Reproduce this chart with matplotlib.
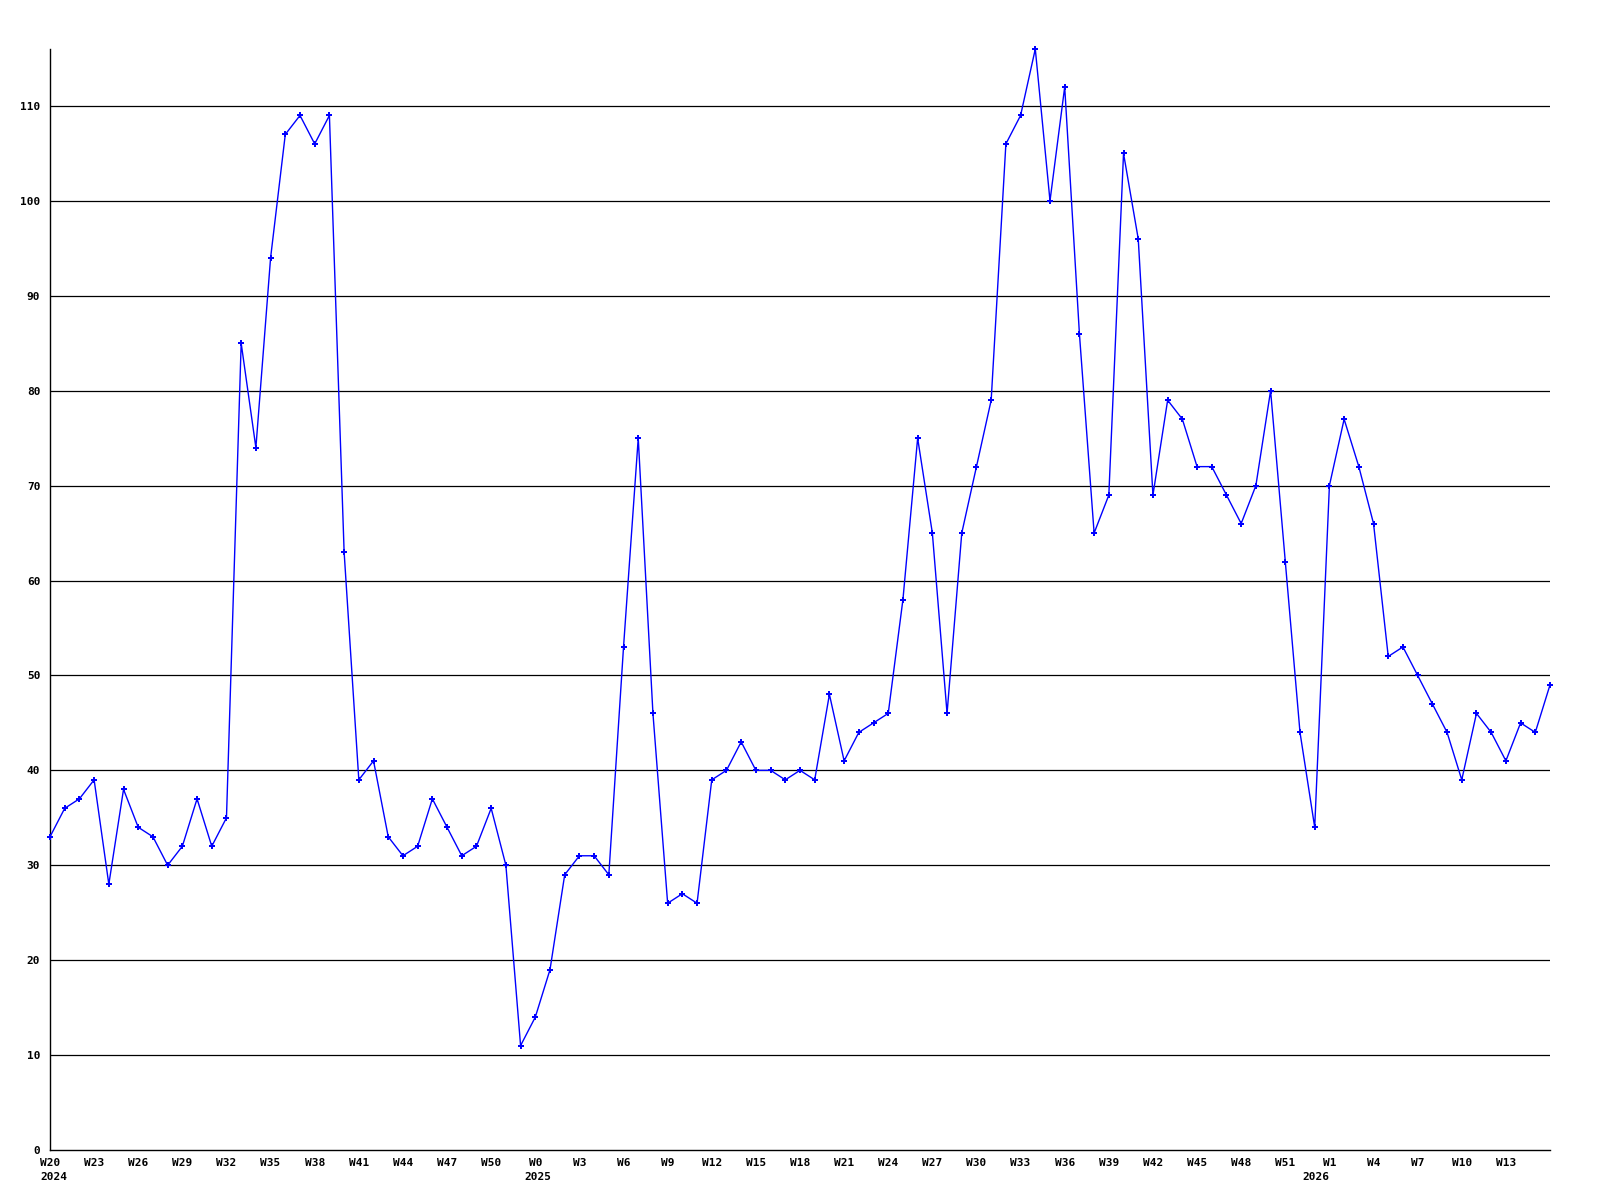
import matplotlib
matplotlib.use("Agg")
import matplotlib.pyplot as plt
import matplotlib.transforms as mtransforms

# weekly values, W20 2024 .. W16 2026
values = [
    33, 36, 37, 39, 28, 38, 34, 33, 30, 32, 37, 32, 35, 85, 74, 94, 107, 109, 106, 109,
    63, 39, 41, 33, 31, 32, 37, 34, 31, 32, 36, 30, 11, 14, 19, 29, 31, 31, 29, 53,
    75, 46, 26, 27, 26, 39, 40, 43, 40, 40, 39, 40, 39, 48, 41, 44, 45, 46, 58, 75,
    65, 46, 65, 72, 79, 106, 109, 116, 100, 112, 86, 65, 69, 105, 96, 69, 79, 77, 72, 72,
    69, 66, 70, 80, 62, 44, 34, 70, 77, 72, 66, 52, 53, 50, 47, 44, 39, 46, 44, 41,
    45, 44, 49,
]

tick_labels = [
    "W20", "W23", "W26", "W29", "W32", "W35", "W38", "W41", "W44", "W47", "W50",
    "W0", "W3", "W6", "W9", "W12", "W15", "W18", "W21", "W24", "W27", "W30",
    "W33", "W36", "W39", "W42", "W45", "W48", "W51",
    "W1", "W4", "W7", "W10", "W13",
]
years = ["2024", "2025", "2026"]
year_pos = [0.27, 33.2, 86.1]
y_ticks = list(range(0, 120, 10))

x = list(range(len(values)))
tick_pos = list(range(0, 3 * len(tick_labels), 3))

fig = plt.figure(figsize=(16, 12), dpi=100)
ax = fig.add_axes([50 / 1600, 50 / 1200, 1500 / 1600, (1150 - 49) / 1200])

font = dict(family="DejaVu Sans Mono", weight="bold", size=8)

for v in y_ticks[1:]:
    ax.axhline(v, color="black", linewidth=0.9, zorder=1)

ax.plot(x, values, color="#0000ff", linewidth=1.0, marker="P", markersize=4,
        markeredgewidth=0, zorder=3, clip_on=False)

ax.set_xlim(0, len(values) - 1)
ax.set_ylim(0, max(values))

ax.set_yticks(y_ticks)
ax.set_yticklabels([str(v) for v in y_ticks], fontdict=font)
ax.set_xticks(tick_pos)
ax.set_xticklabels(tick_labels, fontdict=font)

# year labels on a second row under the first week of each year
trans = mtransforms.blended_transform_factory(ax.transData, fig.transFigure)
for pos, yr in zip(year_pos, years):
    ax.text(pos, 1 - 1177 / 1200, yr, transform=trans, ha="center", va="center", **font)

ax.tick_params(axis="both", length=0)
ax.tick_params(axis="y", pad=7)
ax.tick_params(axis="x", pad=5.5)

ax.spines["top"].set_visible(False)
ax.spines["right"].set_visible(False)
ax.spines["left"].set_linewidth(1.0)
ax.spines["bottom"].set_linewidth(1.0)

fig.savefig("out.png", dpi=100)
